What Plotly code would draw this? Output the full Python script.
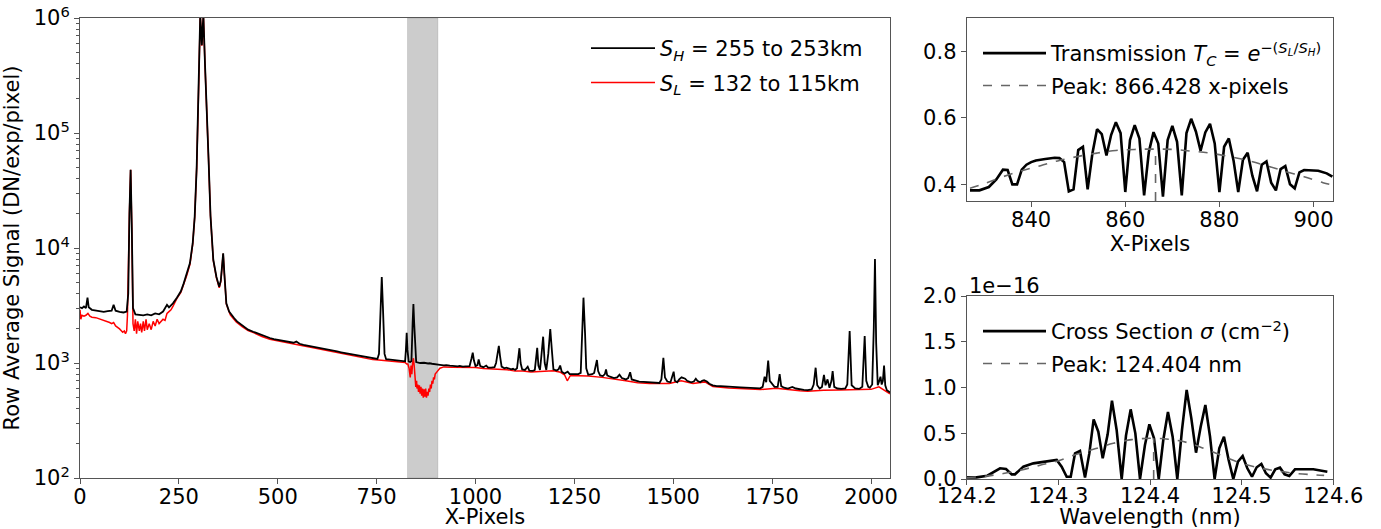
import plotly.graph_objects as go

# ---------------- Left panel: row average signal ----------------
px_H = [0, 5, 10, 15, 19, 22, 30, 40, 50, 60, 70, 80, 85, 90, 100, 110, 118, 122, 125, 128, 131, 134, 140, 150, 160, 170, 180, 190, 200, 210, 220, 225, 235, 245, 255, 262, 270, 278, 285, 290, 295, 300, 304, 306, 308, 310, 312, 316, 320, 325, 330, 337, 345, 352, 356, 360, 362, 365, 370, 377, 383, 390, 397, 404, 415, 425, 438, 450, 460, 471, 480, 490, 501, 510, 520, 530, 540, 547, 555, 565, 575, 589, 600, 610, 620, 631, 640, 650, 660, 673, 685, 695, 705, 715, 725, 735, 745, 752, 756, 760, 763, 766, 770, 774, 780, 790, 800, 810, 817, 822, 824, 826, 828, 831, 835, 838, 841, 843, 845, 848, 850, 860, 870, 880, 884, 890, 900, 910, 920, 926, 935, 945, 955, 960, 968, 975, 985, 990, 993, 996, 1000, 1005, 1008, 1012, 1020, 1027, 1032, 1040, 1048, 1052, 1056, 1059, 1062, 1066, 1073, 1078, 1083, 1090, 1095, 1100, 1105, 1108, 1111, 1114, 1118, 1125, 1132, 1136, 1145, 1150, 1153, 1156, 1159, 1163, 1166, 1171, 1175, 1179, 1184, 1189, 1193, 1197, 1205, 1210, 1214, 1218, 1225, 1233, 1238, 1245, 1250, 1260, 1266, 1269, 1273, 1277, 1280, 1285, 1295, 1300, 1304, 1307, 1310, 1315, 1322, 1327, 1330, 1333, 1340, 1350, 1358, 1364, 1370, 1380, 1386, 1391, 1395, 1405, 1414, 1425, 1435, 1445, 1455, 1465, 1470, 1475, 1479, 1485, 1493, 1498, 1501, 1504, 1510, 1515, 1521, 1526, 1530, 1535, 1545, 1552, 1557, 1561, 1568, 1573, 1578, 1585, 1591, 1600, 1610, 1620, 1630, 1640, 1650, 1660, 1670, 1680, 1690, 1700, 1710, 1720, 1726, 1731, 1735, 1740, 1744, 1750, 1756, 1764, 1769, 1773, 1780, 1790, 1801, 1810, 1820, 1830, 1840, 1850, 1855, 1860, 1864, 1870, 1876, 1881, 1885, 1890, 1895, 1900, 1903, 1907, 1915, 1925, 1935, 1940, 1946, 1951, 1960, 1970, 1978, 1984, 1988, 1993, 1997, 2003, 2007, 2010, 2013, 2017, 2021, 2024, 2027, 2030, 2033, 2036, 2040, 2045, 2048]
sig_H = [3050, 3000, 3100, 3000, 3700, 3050, 2900, 2850, 2800, 2780, 2820, 2850, 3200, 2850, 2780, 2750, 2800, 4000, 20000, 48000, 15000, 3000, 2650, 2620, 2600, 2650, 2600, 2700, 2650, 2800, 3200, 3050, 3300, 3700, 4200, 4900, 5900, 7400, 11000, 18700, 50000, 250000, 1050000, 800000, 580000, 800000, 1050000, 400000, 190000, 60000, 19000, 7900, 5600, 4600, 5200, 8000, 9000, 6000, 3300, 2800, 2600, 2450, 2300, 2200, 2050, 1950, 1870, 1800, 1740, 1690, 1650, 1610, 1590, 1560, 1545, 1520, 1500, 1540, 1470, 1440, 1420, 1390, 1360, 1340, 1320, 1300, 1280, 1260, 1240, 1215, 1195, 1180, 1160, 1140, 1125, 1105, 1090, 1085, 1200, 3000, 5600, 3000, 1200, 1080, 1075, 1065, 1050, 1040, 1030, 1035, 1300, 1830, 1300, 1030, 1020, 1040, 2200, 3250, 2200, 1050, 1020, 1000, 1005, 990, 995, 985, 980, 965, 955, 960, 950, 940, 935, 945, 930, 935, 940, 1100, 1230, 1050, 940, 960, 1076, 940, 920, 950, 910, 910, 920, 1000, 1200, 1410, 1150, 930, 900, 910, 900, 880, 890, 870, 900, 1100, 1345, 1000, 880, 870, 930, 860, 855, 870, 1100, 1355, 950, 870, 1100, 1693, 1000, 870, 1200, 1975, 1300, 880, 860, 880, 950, 840, 810, 840, 800, 800, 790, 800, 820, 1500, 3700, 1800, 900, 790, 800, 820, 960, 1062, 850, 780, 770, 800, 880, 780, 760, 740, 750, 790, 740, 720, 740, 830, 720, 700, 690, 685, 680, 680, 675, 670, 720, 1111, 750, 690, 680, 760, 840, 700, 680, 720, 750, 740, 730, 700, 680, 690, 730, 700, 680, 700, 710, 690, 660, 640, 630, 630, 625, 620, 622, 618, 615, 612, 610, 608, 605, 602, 620, 760, 680, 1048, 700, 650, 620, 620, 802, 630, 610, 600, 620, 600, 590, 585, 582, 590, 650, 910, 640, 600, 620, 787, 640, 720, 610, 700, 851, 620, 600, 595, 600, 650, 1897, 640, 600, 595, 620, 1718, 700, 620, 610, 650, 2000, 8020, 1500, 640, 700, 760, 650, 700, 948, 640, 580, 560, 555]

px_L = [0, 2, 5, 10, 15, 20, 25, 30, 40, 50, 60, 70, 75, 80, 85, 90, 95, 100, 105, 108, 112, 115, 118, 120, 125, 128, 131, 134, 137, 140, 143, 146, 150, 153, 156, 160, 163, 167, 170, 175, 180, 185, 190, 195, 200, 205, 210, 215, 220, 225, 230, 235, 240, 245, 255, 262, 270, 278, 285, 290, 295, 300, 304, 306, 308, 310, 312, 316, 320, 325, 330, 337, 345, 352, 356, 360, 362, 365, 370, 380, 395, 410, 425, 440, 460, 480, 500, 520, 540, 560, 580, 600, 620, 640, 660, 680, 700, 720, 740, 755, 770, 790, 810, 822, 826, 829, 832, 835, 837, 839, 841, 843, 845, 847, 849, 851, 852, 854, 856, 858, 860, 862, 864, 866, 868, 870, 872, 874, 876, 878, 880, 882, 884, 886, 888, 890, 892, 894, 896, 898, 900, 904, 910, 920, 940, 960, 980, 1000, 1020, 1040, 1065, 1080, 1100, 1120, 1140, 1160, 1178, 1197, 1215, 1225, 1232, 1240, 1260, 1285, 1320, 1350, 1380, 1410, 1440, 1490, 1520, 1550, 1580, 1600, 1640, 1680, 1720, 1760, 1790, 1820, 1840, 1880, 1920, 1960, 2000, 2020, 2048]
sig_L = [2900, 2400, 2600, 2550, 2600, 2700, 2550, 2500, 2480, 2420, 2350, 2300, 2250, 2200, 2250, 2100, 2050, 1980, 1900, 1850, 1900, 1800, 1900, 2600, 20000, 48000, 15000, 2200, 1900, 2400, 1800, 2300, 1900, 2200, 1850, 2300, 1900, 2400, 1950, 2200, 1950, 2300, 2100, 2400, 2200, 2300, 2400, 2350, 2700, 2800, 2900, 3100, 3400, 3650, 4100, 4800, 5800, 7200, 10800, 18500, 49000, 245000, 1040000, 790000, 575000, 790000, 1040000, 395000, 188000, 59000, 18800, 7800, 5500, 4500, 5100, 7900, 8900, 5900, 3250, 2620, 2280, 2070, 1910, 1830, 1700, 1610, 1555, 1510, 1465, 1420, 1375, 1330, 1290, 1250, 1210, 1170, 1140, 1105, 1070, 1060, 1050, 1040, 1015, 1010, 980, 980, 900, 750, 950, 800, 1000, 1100, 950, 750, 620, 700, 600, 650, 560, 640, 540, 620, 520, 600, 500, 590, 510, 600, 500, 560, 520, 600, 560, 650, 600, 700, 660, 750, 720, 800, 820, 850, 900, 925, 920, 915, 910, 915, 895, 885, 880, 875, 850, 850, 835, 845, 845, 855, 830, 790, 700, 780, 775, 770, 750, 720, 700, 675, 662, 662, 700, 665, 685, 625, 605, 597, 588, 603, 585, 575, 568, 580, 582, 585, 590, 620, 540]

# ---------------- Top right: transmission ----------------
px_T = [827, 829, 831, 832.6, 834, 835, 836, 837, 838, 839, 840, 841, 843, 845, 846, 847, 848, 849, 850, 851, 852, 853, 854, 855, 856, 857, 858, 859, 860, 861, 862, 863, 864, 865, 866, 867, 868, 869, 870, 871, 872, 873, 874, 875, 876, 877, 878, 879, 880, 881, 882, 883, 884, 885, 886, 887, 888, 889, 890, 891, 892, 893, 894, 895, 896, 897, 898, 900, 901, 902.8, 904]
trans_T = [0.382, 0.382, 0.392, 0.415, 0.444, 0.443, 0.40, 0.40, 0.444, 0.459, 0.467, 0.472, 0.476, 0.480, 0.479, 0.467, 0.379, 0.385, 0.503, 0.513, 0.385, 0.492, 0.566, 0.551, 0.487, 0.549, 0.587, 0.554, 0.377, 0.533, 0.578, 0.538, 0.367, 0.497, 0.557, 0.523, 0.363, 0.533, 0.576, 0.528, 0.367, 0.554, 0.597, 0.559, 0.501, 0.556, 0.582, 0.523, 0.377, 0.513, 0.538, 0.472, 0.377, 0.474, 0.495, 0.426, 0.379, 0.459, 0.469, 0.405, 0.382, 0.446, 0.455, 0.40, 0.388, 0.436, 0.443, 0.443, 0.441, 0.433, 0.423]
px_Tfit = [827, 830, 834, 838, 842, 846, 850, 854, 858, 862, 866, 870, 874, 878, 882, 886, 890, 894, 898, 902, 904]
trans_fit = [0.388, 0.402, 0.423, 0.441, 0.456, 0.472, 0.484, 0.494, 0.502, 0.505, 0.506, 0.505, 0.500, 0.494, 0.484, 0.472, 0.456, 0.439, 0.423, 0.405, 0.398]
peak_px = 866.428
peak_T = 0.506

# ---------------- Bottom right: cross section (units of 1e-16 cm^-2) ----------------
wl = [124.2000, 124.2109, 124.2225, 124.2364, 124.2429, 124.2491, 124.2527, 124.2618, 124.2727, 124.2873, 124.2982, 124.3036, 124.3091, 124.3135, 124.3182, 124.3236, 124.3291, 124.3338, 124.3385, 124.3436, 124.3484, 124.3538, 124.3585, 124.3636, 124.3691, 124.3738, 124.3789, 124.3840, 124.3891, 124.3945, 124.3993, 124.4044, 124.4095, 124.4145, 124.4196, 124.4247, 124.4298, 124.4349, 124.4400, 124.4451, 124.4502, 124.4553, 124.4604, 124.4655, 124.4705, 124.4756, 124.4807, 124.4858, 124.4909, 124.4960, 124.5011, 124.5062, 124.5113, 124.5164, 124.5215, 124.5265, 124.5316, 124.5367, 124.5418, 124.5469, 124.5520, 124.5582, 124.5673, 124.5782, 124.5935]
sigma = [0.018, 0.018, 0.036, 0.117, 0.109, 0.051, 0.051, 0.135, 0.171, 0.193, 0.208, 0.135, 0.025, 0.025, 0.28, 0.306, 0.015, 0.28, 0.652, 0.517, 0.226, 0.488, 0.856, 0.536, 0.0, 0.474, 0.761, 0.499, 0.0, 0.372, 0.597, 0.444, 0.0, 0.426, 0.732, 0.463, 0.0, 0.536, 0.973, 0.663, 0.288, 0.572, 0.809, 0.463, 0.0, 0.335, 0.463, 0.208, 0.0, 0.19, 0.251, 0.117, 0.025, 0.128, 0.164, 0.062, 0.015, 0.106, 0.124, 0.051, 0.033, 0.106, 0.109, 0.106, 0.08]
wl_fit = [124.20, 124.22, 124.24, 124.26, 124.28, 124.30, 124.32, 124.34, 124.36, 124.38, 124.40, 124.42, 124.44, 124.46, 124.48, 124.50, 124.52, 124.54, 124.56, 124.58, 124.59]
sigma_fit = [0.015, 0.03, 0.06, 0.10, 0.15, 0.20, 0.27, 0.33, 0.39, 0.43, 0.445, 0.435, 0.40, 0.33, 0.25, 0.17, 0.12, 0.085, 0.06, 0.045, 0.04]
peak_wl = 124.404
peak_sigma = 0.445

shade_range = [828, 905]

W, H = 1381, 529
FONT = 'DejaVu Sans'
FS = 21
AX = '#555555'

fig = go.Figure()

# left
fig.add_trace(go.Scatter(x=px_L, y=sig_L, mode='lines', line=dict(color='red', width=1.5),
                         name='<i>S<sub>L</sub></i> = 132 to 115km', legend='legend', legendrank=2,
                         legendgroup='l', xaxis='x', yaxis='y'))
fig.add_trace(go.Scatter(x=px_H, y=sig_H, mode='lines', line=dict(color='black', width=1.8),
                         name='<i>S<sub>H</sub></i> = 255 to 253km', legend='legend', legendrank=1,
                         legendgroup='h', xaxis='x', yaxis='y'))
# top right
fig.add_trace(go.Scatter(x=px_T, y=trans_T, mode='lines', line=dict(color='black', width=2.6),
                         name='Transmission <i>T<sub>C</sub></i> = <i>e</i><sup>−(<i>S<sub>L</sub></i>/<i>S<sub>H</sub></i>)</sup>',
                         legend='legend2', legendrank=1, legendgroup='t', xaxis='x2', yaxis='y2'))
fig.add_trace(go.Scatter(x=px_Tfit, y=trans_fit, mode='lines', line=dict(color='#666666', width=1.6, dash='dash', shape='spline'),
                         name='Peak: 866.428 x-pixels', legend='legend2', legendrank=2, legendgroup='tf',
                         xaxis='x2', yaxis='y2'))
fig.add_trace(go.Scatter(x=[peak_px, peak_px], y=[0.35, peak_T], mode='lines',
                         line=dict(color='#666666', width=1.6, dash='dash'), showlegend=False, xaxis='x2', yaxis='y2'))
# bottom right
fig.add_trace(go.Scatter(x=wl, y=sigma, mode='lines', line=dict(color='black', width=2.6),
                         name='Cross Section <i>σ</i> (cm<sup>−2</sup>)', legend='legend3', legendrank=1,
                         legendgroup='c', xaxis='x3', yaxis='y3'))
fig.add_trace(go.Scatter(x=wl_fit, y=sigma_fit, mode='lines', line=dict(color='#666666', width=1.6, dash='dash', shape='spline'),
                         name='Peak: 124.404 nm', legend='legend3', legendrank=2, legendgroup='cf',
                         xaxis='x3', yaxis='y3'))
fig.add_trace(go.Scatter(x=[peak_wl, peak_wl], y=[0, peak_sigma], mode='lines',
                         line=dict(color='#666666', width=1.6, dash='dash'), showlegend=False, xaxis='x3', yaxis='y3'))

fig.add_shape(type='rect', xref='x', yref='y domain', x0=shade_range[0], x1=shade_range[1], y0=0, y1=1,
              fillcolor='rgba(0,0,0,0.2)', line=dict(color='rgba(0,0,0,0.1)', width=1), layer='below')


def ax_common(**kw):
    d = dict(showline=True, linecolor=AX, linewidth=1, mirror=True, ticks='outside', ticklen=5,
             tickcolor=AX, tickwidth=1, showgrid=False, zeroline=False, automargin=False,
             tickfont=dict(family=FONT, size=FS, color='black'))
    d.update(kw)
    return d


def px2fx(p):
    return p / W


def py2fy(p):
    return 1 - p / H


minor_vals = [m * 10 ** e for e in range(2, 6) for m in range(2, 10)]

fig.update_layout(
    width=W, height=H, margin=dict(l=0, r=0, t=0, b=0),
    plot_bgcolor='white', paper_bgcolor='white',
    font=dict(family=FONT, size=FS, color='black'),
    xaxis=ax_common(domain=[px2fx(80), px2fx(890)], range=[0, 2048], anchor='y',
                    tickvals=[0, 250, 500, 750, 1000, 1250, 1500, 1750, 2000], ticklabelstandoff=-5,
                    title=dict(text='X-Pixels', standoff=13, font=dict(size=FS))),
    yaxis=ax_common(domain=[py2fy(478), py2fy(18)], type='log', range=[2, 6], anchor='x',
                    tickvals=[1e2, 1e3, 1e4, 1e5, 1e6],
                    ticktext=['10<sup>2</sup>', '10<sup>3</sup>', '10<sup>4</sup>', '10<sup>5</sup>', '10<sup>6</sup>'],
                    minor=dict(tickvals=minor_vals, ticks='outside', ticklen=3, tickcolor=AX, showgrid=False),
                    title=dict(text='Row Average Signal (DN/exp/pixel)', standoff=8, font=dict(size=FS))),
    xaxis2=ax_common(domain=[px2fx(966.7), px2fx(1333.3)], range=[826.3, 904.2], anchor='y2',
                     tickvals=[840, 860, 880, 900], ticklabelstandoff=-5,
                     title=dict(text='X-Pixels', standoff=4, font=dict(size=FS))),
    yaxis2=ax_common(domain=[py2fy(201), py2fy(18)], range=[0.35, 0.9], anchor='x2',
                     tickvals=[0.4, 0.6, 0.8], tickformat='.1f'),
    xaxis3=ax_common(domain=[px2fx(966.7), px2fx(1333.3)], range=[124.2, 124.6], anchor='y3',
                     tickvals=[124.2, 124.3, 124.4, 124.5, 124.6], tickformat='.1f', ticklabelstandoff=-7,
                     title=dict(text='Wavelength (nm)', standoff=11, font=dict(size=FS))),
    yaxis3=ax_common(domain=[py2fy(479), py2fy(296)], range=[0, 2.0], anchor='x3',
                     tickvals=[0, 0.5, 1.0, 1.5, 2.0], tickformat='.1f'),
    legend=dict(x=px2fx(586), y=py2fy(28), xanchor='left', yanchor='top', bgcolor='rgba(0,0,0,0)',
                font=dict(size=FS), itemwidth=64, tracegroupgap=4),
    legend2=dict(x=px2fx(978), y=py2fy(33), xanchor='left', yanchor='top', bgcolor='rgba(0,0,0,0)',
                 font=dict(size=FS), itemwidth=63, tracegroupgap=2),
    legend3=dict(x=px2fx(978), y=py2fy(311), xanchor='left', yanchor='top', bgcolor='rgba(0,0,0,0)',
                 font=dict(size=FS), itemwidth=63, tracegroupgap=2),
    annotations=[dict(text='1e−16', xref='paper', yref='paper', x=px2fx(967), y=py2fy(286),
                      xanchor='left', yanchor='middle', showarrow=False, font=dict(size=FS, family=FONT))],
)

fig.write_html('out.html')
